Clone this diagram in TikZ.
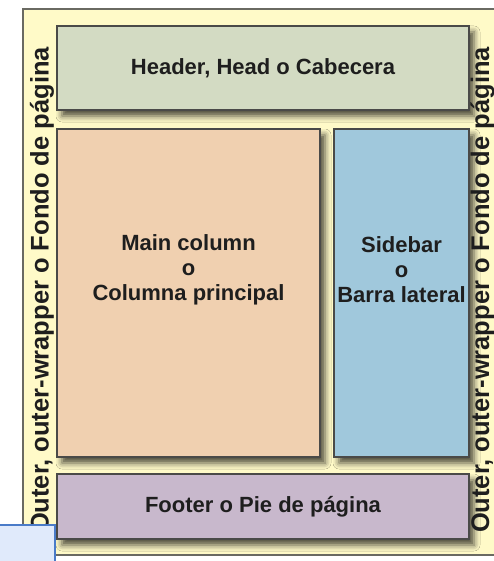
\documentclass[tikz,border=0pt]{standalone}
\usepackage{fontspec}
\setmainfont{Liberation Sans}
\usetikzlibrary{shadows.blur}
\definecolor{bgyellow}{HTML}{FFFAC8}
\definecolor{framegray}{HTML}{6A6A62}
\definecolor{boxline}{HTML}{4A4A48}
\definecolor{headc}{HTML}{D3DBC3}
\definecolor{mainc}{HTML}{F0D0B0}
\definecolor{sidec}{HTML}{A0C8DC}
\definecolor{footc}{HTML}{C8B8CC}
\definecolor{txt}{HTML}{1E1E1E}
\definecolor{bluebd}{HTML}{4A7BC8}
\definecolor{bluef}{HTML}{E0EAFB}
\begin{document}
\begin{tikzpicture}[x=1pt,y=-1pt,
  box/.style={draw=boxline, line width=1.3pt, inner sep=0pt,
    blur shadow={shadow xshift=5pt, shadow yshift=-6pt, shadow blur radius=6pt, shadow opacity=70}},
  lab/.style={font=\bfseries\fontsize{22}{25}\selectfont, text=txt, align=center, inner sep=0pt},
  vlab/.style={font=\bfseries\fontsize{25.5}{28}\selectfont, text=txt, inner sep=0pt, rotate=90, anchor=base}]
\useasboundingbox (0,0) rectangle (494,561);
\clip (0,0) rectangle (494,561);
\fill[white] (0,0) rectangle (494,561);
\draw[fill=bgyellow, draw=framegray, line width=2.2pt] (23,9) rectangle (510,555);
% boxes
\node[box, fill=headc, minimum width=412pt, minimum height=84pt] (header) at (263,68) {};
\node[box, fill=mainc, minimum width=263pt, minimum height=328pt] (main) at (188.5,293) {};
\node[box, fill=sidec, minimum width=135pt, minimum height=328pt] (side) at (401.5,293) {};
\node[box, fill=footc, minimum width=412pt, minimum height=65pt] (footer) at (263,506.5) {};
% labels
\node[lab] (headt) at (header.center) {Header, Head o Cabecera};
\node[lab] (maint) at (188.5,270) {Main column\\o\\Columna principal};
\node[lab] (sidet) at (401.5,270) {Sidebar\\o\\Barra lateral};
\node[lab] (foott) at (footer.center) {Footer o Pie de página};
\node[vlab] (outl) at (48.5,290) {Outer, outer-wrapper o Fondo de página};
\node[vlab] (outr) at (489,290) {Outer, outer-wrapper o Fondo de página};
% small blue box at lower left
\draw[fill=bluef, draw=bluebd, line width=1.2pt] (-5,525) rectangle (55,570);
\end{tikzpicture}
\end{document}
